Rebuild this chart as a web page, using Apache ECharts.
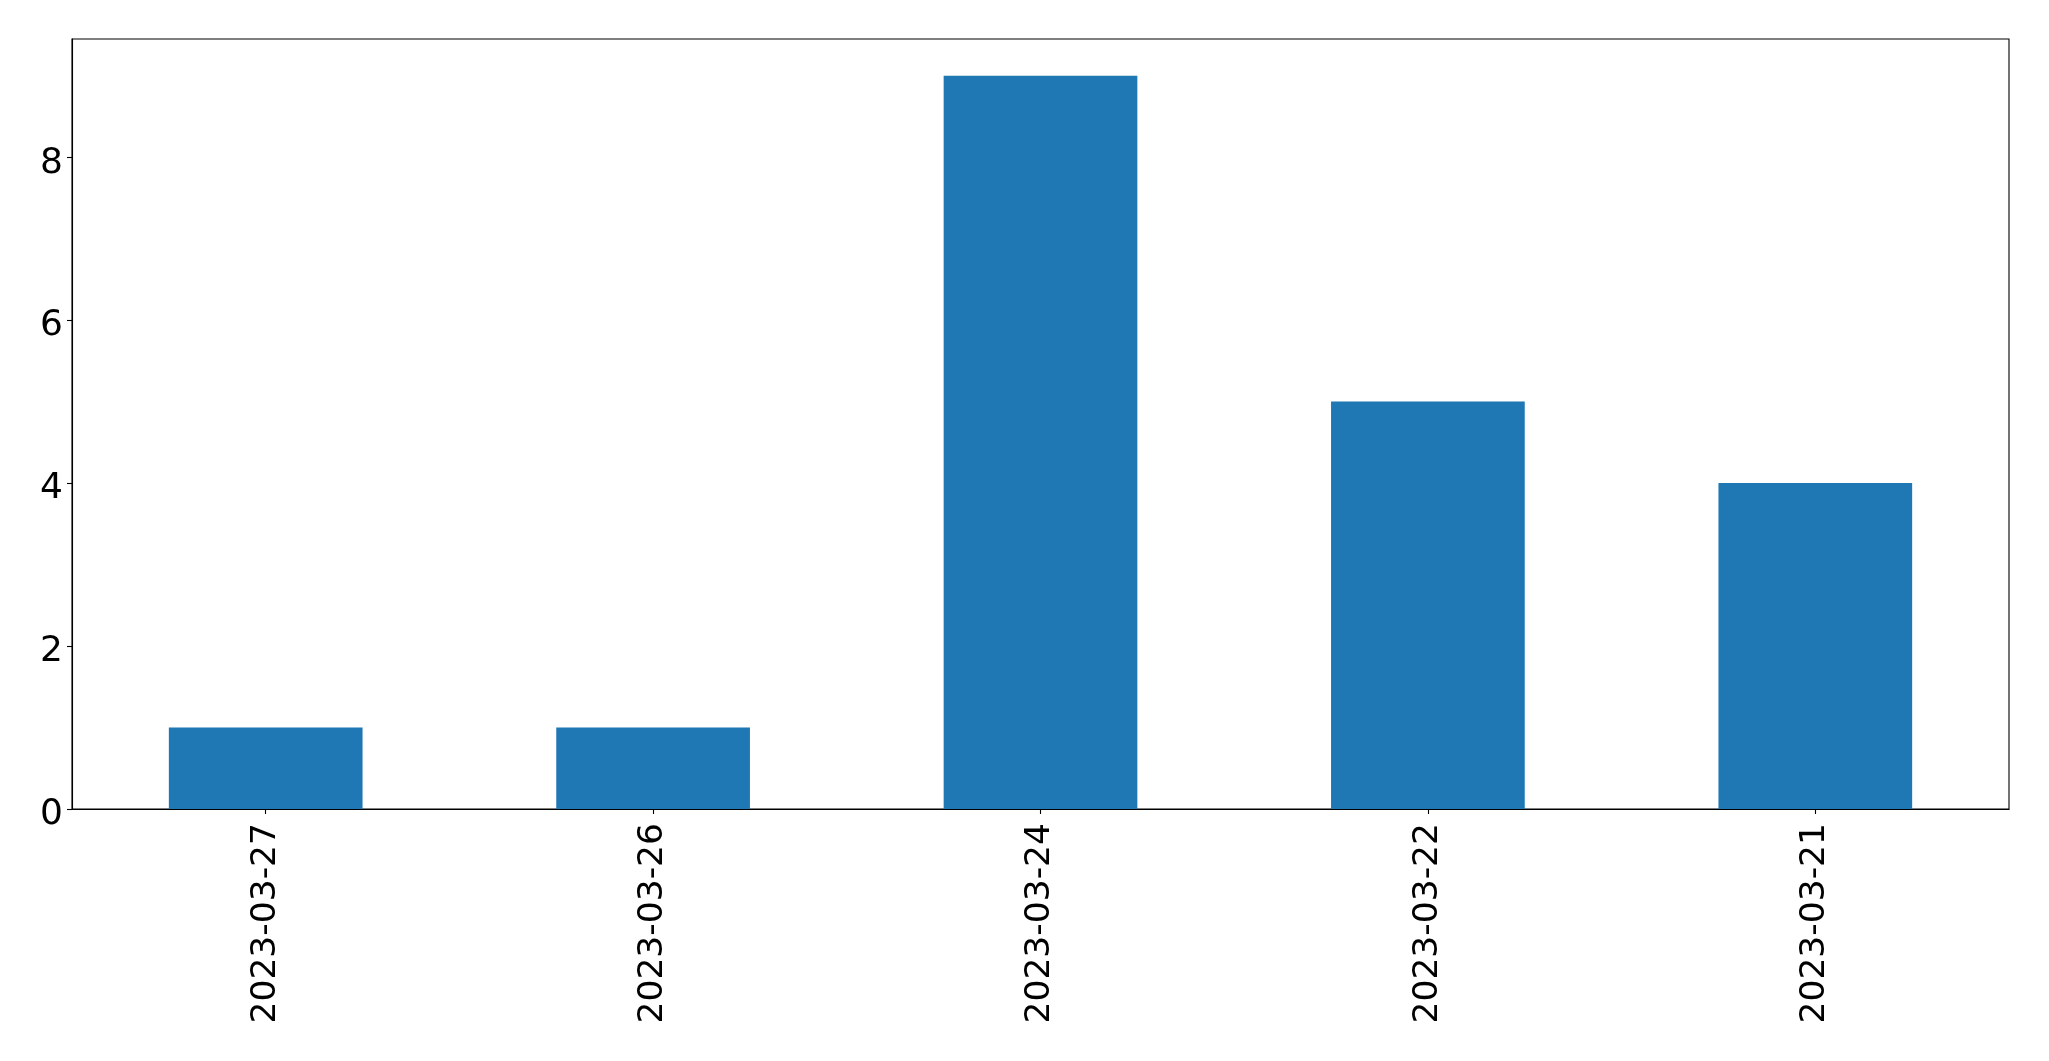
<!DOCTYPE html>
<html>
<head>
<meta charset="utf-8">
<script src="https://cdn.jsdelivr.net/npm/echarts@6/dist/echarts.min.js"></script>
<style>
html,body{margin:0;padding:0;background:#fff;}
#chart{width:2049px;height:1061px;}
</style>
</head>
<body>
<div id="chart"></div>
<script>
const categories = ["2023-03-27", "2023-03-26", "2023-03-24", "2023-03-22", "2023-03-21"];
const counts = [1, 1, 9, 5, 4];
const yTicks = [0, 2, 4, 6, 8];

const chart = echarts.init(document.getElementById('chart'), null, {renderer: 'canvas'});
const font = 'DejaVu Sans';
chart.setOption({
  animation: false,
  backgroundColor: '#ffffff',
  grid: {
    left: 72, top: 39, right: 40, bottom: 252,
    show: true, borderColor: '#000', borderWidth: 1.1, backgroundColor: 'transparent'
  },
  xAxis: {
    type: 'category',
    data: categories,
    boundaryGap: true,
    axisLine: {show: true, lineStyle: {color: '#000', width: 1.1}},
    axisTick: {show: true, alignWithLabel: true, length: 5, lineStyle: {color: '#000', width: 1.1}},
    axisLabel: {rotate: 90, color: '#000', fontFamily: font, fontSize: 34.5, margin: 14, interval: 0},
    splitLine: {show: false}
  },
  yAxis: {
    type: 'value',
    min: 0, max: 9.45, interval: 2,
    axisLine: {show: true, lineStyle: {color: '#000', width: 1.1}},
    axisTick: {show: true, length: 5, lineStyle: {color: '#000', width: 1.1}},
    axisLabel: {
      color: '#000', fontFamily: font, fontSize: 36, margin: 9,
      showMaxLabel: false,
      formatter: v => yTicks.includes(v) ? '{a|' + v + '}' : '',
      rich: {a: {fontFamily: font, fontSize: 36, color: '#000', padding: [12, 0, 0, 0]}}
    },
    splitLine: {show: false}
  },
  series: [{
    type: 'bar',
    data: counts,
    barWidth: '50%',
    itemStyle: {color: '#1f77b4'}
  }]
});
</script>
</body>
</html>
